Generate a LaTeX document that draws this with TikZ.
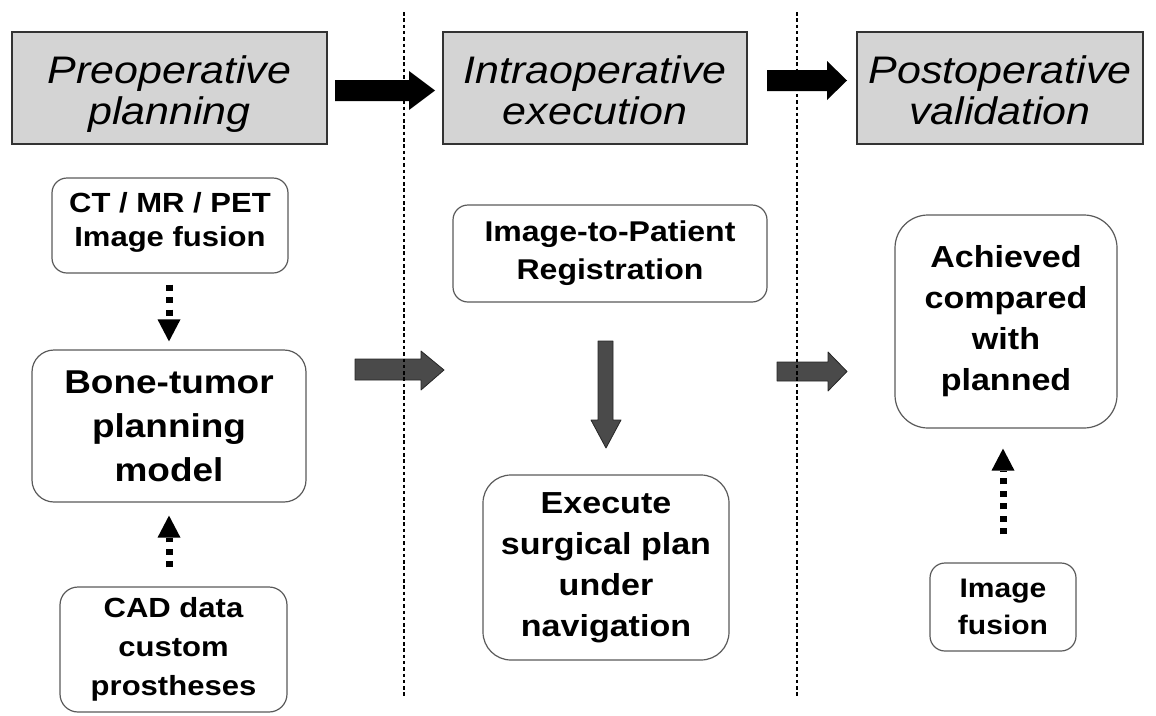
\documentclass[tikz,border=0pt]{standalone}
\usepackage{fontspec}
\setmainfont{Liberation Sans}[FakeStretch=1.12]
\usetikzlibrary{arrows.meta}

\definecolor{headgray}{HTML}{D4D4D4}
\definecolor{blockgray}{HTML}{4A4A4A}
\definecolor{edgegray}{HTML}{5A5A5A}

% struts that give every header the same vertical text placement
\newcommand\headtop{\rule{0pt}{41pt}}
\newcommand\headbot{\rule[-10pt]{0pt}{10pt}}

\tikzset{
  stage/.style={draw=black!80, fill=headgray, line width=1.2pt, inner sep=0pt,
    align=center, font=\fontsize{38.4}{41}\selectfont\itshape},
  card/.style={draw=edgegray, fill=white, line width=1.2pt, inner sep=0pt,
    align=center},
  sep/.style={draw=black, line width=1.1pt, dash pattern=on 3.5pt off 2.8pt},
  dotlink/.style={draw=black, line width=7pt, dash pattern=on 6pt off 6.5pt,
    -{Triangle[length=22pt,width=23pt,line width=0pt]}},
  headarrow/.style={fill=black},
  flowarrow/.style={fill=blockgray, draw=black!85, line width=0.8pt, line join=round},
}

\begin{document}
\begin{tikzpicture}[x=1pt,y=-1pt]
\useasboundingbox (0,0) rectangle (1156,715);

% phase headers
\node[stage, minimum width=315pt, minimum height=112pt] (pre)  at (169.5,88) {\headtop Preoperative\\planning\headbot};
\node[stage, minimum width=304pt, minimum height=112pt] (intra) at (595,88) {\headtop Intraoperative\\execution\headbot};
\node[stage, minimum width=286pt, minimum height=112pt] (post) at (1000,88) {\headtop Postoperative\\validation\headbot};

% header arrows
\fill[headarrow] (335,80) -- (409,80) -- (409,71) -- (435,90.5) -- (409,110) -- (409,101) -- (335,101) -- cycle;
\fill[headarrow] (767,70) -- (827,70) -- (827,61) -- (847,80.5) -- (827,100) -- (827,91) -- (767,91) -- cycle;

% preoperative column
\node[card, font=\fontsize{27.7}{34}\selectfont\bfseries, rounded corners=15pt,
      minimum width=236pt, minimum height=95pt] (ct) at (170,225.5)
  {CT / MR / PET\\Image fusion\rule[-13pt]{0pt}{13pt}};
\node[card, font=\fontsize{33}{44}\selectfont\bfseries, rounded corners=22pt, minimum width=274pt, minimum height=152pt] (bone) at (169,426)
  {Bone-tumor\\planning\\model};
\node[card, font=\fontsize{27.7}{39}\selectfont\bfseries, rounded corners=18pt, minimum width=227pt, minimum height=125pt] (cad) at (173.5,649.5)
  {CAD data\\custom\\prostheses};

% intraoperative column
\node[card, font=\fontsize{28.6}{38}\selectfont\bfseries, rounded corners=15pt, minimum width=314pt, minimum height=97pt] (reg) at (610,253.5)
  {Image-to-Patient\\Registration};
\node[card, font=\fontsize{30.4}{41}\selectfont\bfseries, rounded corners=28pt, minimum width=246pt, minimum height=185pt] (exec) at (606,567.5)
  {Execute\\surgical plan\\under\\navigation};

% postoperative column
\node[card, font=\fontsize{30.4}{41}\selectfont\bfseries, rounded corners=33pt, minimum width=222pt, minimum height=213pt] (ach) at (1006,321.5)
  {Achieved\\compared\\with\\planned};
\node[card, font=\fontsize{26.8}{37}\selectfont\bfseries, rounded corners=15pt, minimum width=146pt, minimum height=88pt] (fus) at (1003,607)
  {Image\\fusion};

% flow arrows between stages
\filldraw[flowarrow] (355,359) -- (421,359) -- (421,351) -- (444,370) -- (421,390) -- (421,380) -- (355,380) -- cycle;
\filldraw[flowarrow] (777,362) -- (828,362) -- (828,352) -- (847,371.5) -- (828,391) -- (828,381) -- (777,381) -- cycle;
\filldraw[flowarrow] (598,341) -- (613,341) -- (613,420) -- (621,420) -- (606,448) -- (591,420) -- (598,420) -- cycle;

% data inputs
\draw[dotlink, shorten <=11pt, shorten >=8pt] (bone.north |- ct.south) -- (bone.north);
\draw[dotlink, shorten <=19pt, shorten >=13pt] (bone.south |- cad.north) -- (bone.south);
\draw[dotlink, shorten <=28pt, shorten >=20pt] (fus.north) -- (fus.north |- ach.south);

% phase separators
\draw[sep] (404,12) -- (404,698);
\draw[sep] (797,12) -- (797,698);
\end{tikzpicture}
\end{document}
